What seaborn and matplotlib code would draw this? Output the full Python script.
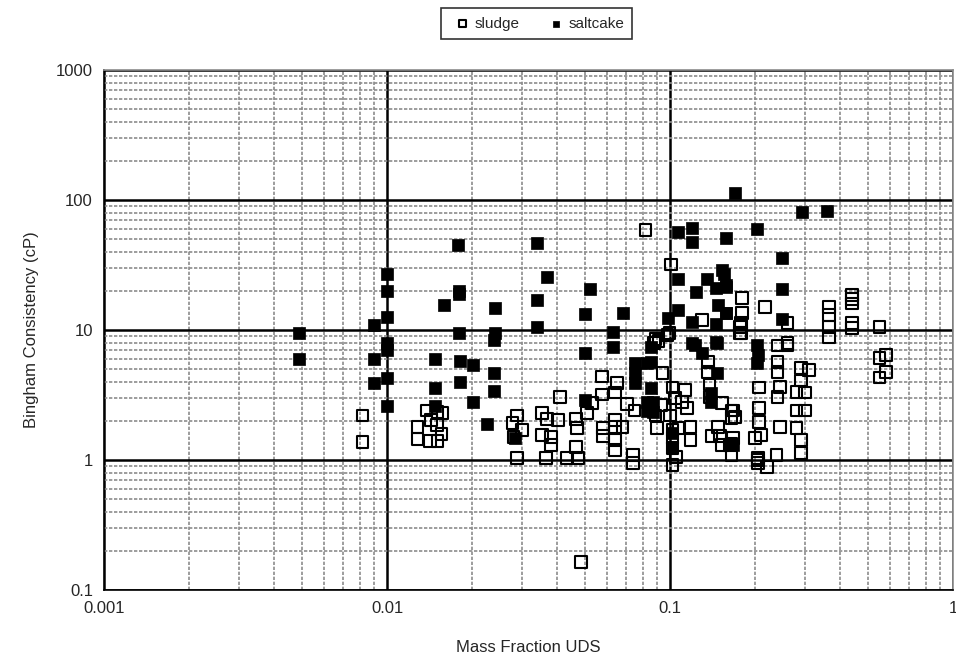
import numpy as np
import pandas as pd
import matplotlib
matplotlib.use('Agg')
import matplotlib.pyplot as plt
import matplotlib.ticker as mticker
import seaborn as sns

# ─── Data ─────────────────────────────────────────────────────────────────────

saltcake_x = [
    0.0049, 0.0049, 0.009, 0.009, 0.009,
    0.01, 0.01, 0.01, 0.01, 0.01, 0.01, 0.01,
    0.0148, 0.0148, 0.0148, 0.0181, 0.0181, 0.0201, 0.0201, 0.0225,
    0.0239, 0.0239, 0.0239, 0.0178, 0.018, 0.018, 0.0159, 0.024, 0.024, 0.018,
    0.0339, 0.0368, 0.0339, 0.0339, 0.0522, 0.05, 0.068, 0.063, 0.063,
    0.107, 0.12, 0.12, 0.158, 0.17, 0.107, 0.135, 0.153, 0.155, 0.124,
    0.145, 0.158, 0.148, 0.158, 0.107, 0.098, 0.12, 0.145, 0.12, 0.145,
    0.05, 0.086, 0.075, 0.075, 0.075, 0.086, 0.086, 0.05, 0.087, 0.087,
    0.123, 0.146, 0.146, 0.13, 0.0283,
    0.292, 0.36, 0.203, 0.248, 0.248, 0.248, 0.158, 0.158,
    0.203, 0.205, 0.203, 0.083, 0.083, 0.083, 0.14, 0.14, 0.167, 0.102, 0.102,
]
saltcake_y = [
    9.5, 6.0, 11.0, 6.0, 3.9,
    27, 20, 12.6, 8.0, 7.0, 4.3, 2.6,
    6.0, 3.6, 2.6, 5.8, 4.0, 5.4, 2.8, 1.9,
    4.66, 3.4, 8.4, 45, 19, 20, 15.6, 14.7, 9.5, 9.5,
    46.7, 25.6, 17, 10.6, 20.6, 13.3, 13.5, 9.7, 7.4,
    57, 61, 47.5, 51, 113, 24.6, 24.6, 29, 27, 19.6,
    21, 22, 15.6, 13.5, 14.2, 12.4, 11.5, 11.1, 7.9, 8.1,
    6.6, 7.4, 5.6, 4.7, 3.9, 5.7, 3.6, 2.9, 2.8, 2.34,
    7.6, 7.9, 4.66, 6.6, 1.47,
    81, 83, 60, 36, 20.6, 12.2, 21.4, 13.5,
    7.7, 6.4, 5.6, 5.6, 2.8, 2.4, 3.3, 2.8, 1.3, 1.26, 1.6,
]

sludge_x = [
    0.0082, 0.0082,
    0.0138, 0.0151, 0.0128, 0.0128, 0.0142, 0.0151, 0.0156, 0.015, 0.0143, 0.0157,
    0.0288, 0.0278, 0.03, 0.028, 0.0288,
    0.0575, 0.065, 0.064, 0.0575, 0.0408, 0.0353, 0.0367, 0.0403, 0.0465, 0.047,
    0.0509, 0.053, 0.0353, 0.038, 0.038, 0.0465, 0.0365, 0.0432, 0.0473, 0.058,
    0.058, 0.064, 0.064, 0.064, 0.068, 0.064, 0.0705, 0.075, 0.074, 0.074,
    0.0485,
    0.094, 0.098, 0.089, 0.177, 0.136, 0.136, 0.113, 0.102, 0.104, 0.11, 0.115,
    0.093, 0.089, 0.1, 0.09, 0.102, 0.107, 0.118, 0.102, 0.118, 0.102, 0.102,
    0.105, 0.138, 0.138, 0.153, 0.167, 0.17, 0.148, 0.14, 0.15, 0.153, 0.163,
    0.167, 0.2, 0.204,
    0.082, 0.101, 0.13, 0.177, 0.0995, 0.091, 0.088,
    0.18, 0.18, 0.217, 0.178, 0.178, 0.26, 0.26, 0.365, 0.365, 0.365, 0.365,
    0.44, 0.44, 0.44, 0.44, 0.44, 0.55,
    0.55, 0.58, 0.58, 0.55, 0.24, 0.26, 0.24, 0.24, 0.29, 0.31, 0.29, 0.245,
    0.206, 0.24, 0.28, 0.3, 0.28, 0.3, 0.206, 0.206, 0.165, 0.165, 0.245, 0.21,
    0.28, 0.29, 0.29, 0.238, 0.22, 0.205, 0.205, 0.165, 0.165,
]
sludge_y = [
    2.2, 1.37,
    2.4, 2.34, 1.8, 1.45, 1.4, 1.4, 1.58, 1.86, 2.03, 2.3,
    2.2, 1.93, 1.7, 1.5, 1.04,
    4.4, 3.9, 3.3, 3.2, 3.05, 2.3, 2.07, 2.03, 2.07, 1.76,
    2.3, 2.75, 1.56, 1.5, 1.3, 1.26, 1.04, 1.04, 1.04, 1.76,
    1.53, 1.8, 1.42, 1.2, 1.8, 2.03, 2.7, 2.4, 1.09, 0.95,
    0.165,
    4.66, 9.2, 8.5, 9.5, 5.7, 4.75, 3.45, 3.6, 3.0, 2.8, 2.5,
    2.65, 2.2, 2.2, 1.76, 1.7, 1.76, 1.8, 1.47, 1.42, 1.24, 0.92,
    1.05, 3.8, 3.05, 2.75, 2.4, 2.14, 1.8, 1.53, 1.53, 1.3, 1.3,
    1.47, 1.47, 1.0,
    59, 32, 11.9, 10.6, 9.5, 8.2, 7.9,
    17.6, 13.5, 15, 11.3, 9.5, 11.3, 7.9, 15, 13, 10.6, 8.8,
    18.6, 17.3, 16, 11.3, 10.4, 10.6,
    6.1, 6.4, 4.75, 4.3, 7.6, 7.6, 5.7, 4.75, 5.1, 4.9, 4.1, 3.65,
    3.6, 3.05, 3.35, 3.3, 2.4, 2.4, 2.5, 1.96, 2.4, 2.1, 1.8, 1.56,
    1.76, 1.42, 1.13, 1.09, 0.88, 1.04, 0.95, 1.33, 1.09,
]

x_ticks = [0.001, 0.01, 0.1, 1]
x_tick_labels = ['0.001', '0.01', '0.1', '1']
y_ticks = [0.1, 1, 10, 100, 1000]
y_tick_labels = ['0.1', '1', '10', '100', '1000']

# ─── Plot ─────────────────────────────────────────────────────────────────────

df = pd.concat([
    pd.DataFrame({'x': sludge_x, 'y': sludge_y, 'kind': 'sludge'}),
    pd.DataFrame({'x': saltcake_x, 'y': saltcake_y, 'kind': 'saltcake'}),
], ignore_index=True)

sns.set_style('white')
plt.rcParams['font.family'] = ['Liberation Sans', 'DejaVu Sans']

fig = plt.figure(figsize=(9.56, 6.68), dpi=100)
ax = fig.add_axes([104 / 956, 1 - 590 / 668, 849 / 956, 520 / 668])

ax.set_xscale('log')
ax.set_yscale('log')
ax.set_xlim(0.001, 1)
ax.set_ylim(0.1, 1000)

# grid first so markers sit on top
ax.set_axisbelow(True)
ax.grid(which='minor', color='#8c8c8c', linestyle=(0, (2, 1)), linewidth=1.2)
ax.grid(which='major', color='black', linestyle='-', linewidth=1.8)
ax.xaxis.set_minor_locator(mticker.LogLocator(base=10, subs=np.arange(2, 10)))
ax.yaxis.set_minor_locator(mticker.LogLocator(base=10, subs=np.arange(2, 10)))
ax.xaxis.set_minor_formatter(mticker.NullFormatter())
ax.yaxis.set_minor_formatter(mticker.NullFormatter())

sns.scatterplot(data=df[df.kind == 'sludge'], x='x', y='y', ax=ax,
                marker='s', s=70, facecolor='none', edgecolor='black',
                linewidth=1.5, label='sludge', zorder=3)
sns.scatterplot(data=df[df.kind == 'saltcake'], x='x', y='y', ax=ax,
                marker='s', s=70, color='black', edgecolor='black',
                linewidth=0.5, label='saltcake', zorder=3)

ax.set_xticks(x_ticks)
ax.set_xticklabels(x_tick_labels)
ax.set_yticks(y_ticks)
ax.set_yticklabels(y_tick_labels)
ax.tick_params(axis='both', which='both', length=0, labelsize=12, pad=8)

ax.set_xlabel('Mass Fraction UDS', fontsize=12, labelpad=17)
ax.set_ylabel('Bingham Consistency (cP)', fontsize=12, labelpad=12)

for side in ['top', 'right']:
    ax.spines[side].set_color('#8c8c8c')
    ax.spines[side].set_linewidth(1.2)
for side in ['left', 'bottom']:
    ax.spines[side].set_color('black')
    ax.spines[side].set_linewidth(1.2)

leg = ax.legend(loc='lower center', bbox_to_anchor=(0.51, 1.045), ncol=2,
                frameon=True, fancybox=False, fontsize=11, handletextpad=0.0,
                columnspacing=1.6, markerscale=0.6, borderpad=0.55,
                handlelength=1.6)
leg.get_frame().set_edgecolor('black')
leg.get_frame().set_linewidth(1.2)

fig.savefig('out.png', dpi=100)
